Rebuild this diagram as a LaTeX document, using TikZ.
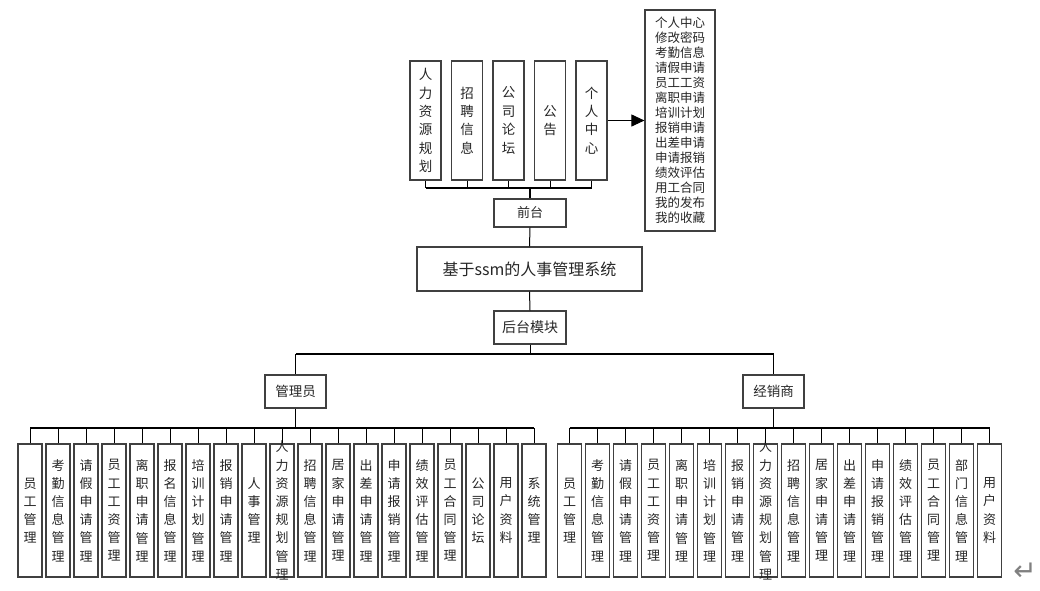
\documentclass[tikz,border=0pt]{standalone}
\usepackage{fontspec}
\setmainfont{Noto Sans CJK SC}
\newfontfamily\symfont{DejaVu Sans}
\usetikzlibrary{arrows.meta}
\begin{document}
\begin{tikzpicture}[x=1pt,y=-1pt,
  box/.style={draw=black!75,line width=1.2pt,fill=white,inner sep=0pt},
  vtext/.style={align=center,inner sep=0pt,text=black!85,font=\fontsize{13}{18.2}\selectfont},
  htext/.style={inner sep=0pt,text=black!85},
  conn/.style={draw=black,line width=1pt},
  bus/.style={draw=black,line width=1.4pt}]
\useasboundingbox (0,0) rectangle (1040,590);

% ---- top (front-end)
\foreach \t [count=\i] in {{人\\力\\资\\源\\规\\划},{招\\聘\\信\\息},{公\\司\\论\\坛},{公\\告},{个\\人\\中\\心}}{
  \node[box,minimum width=31pt,minimum height=119pt] (T\i) at ({425.5+41.5*(\i-1)},120.5) {};
  \node[vtext,font=\fontsize{13.5}{18.4}\selectfont] (Tt\i) at (T\i.center) {\t};
}
\node[box,minimum width=70pt,minimum height=221pt] (pc) at (680,120.5) {};
\node[vtext,font=\fontsize{12.5}{15}\selectfont] (pct) at (pc.center)
 {个人中心\\修改密码\\考勤信息\\请假申请\\员工工资\\离职申请\\培训计划\\报销申请\\出差申请\\申请报销\\绩效评估\\用工合同\\我的发布\\我的收藏};
\draw[conn,-{Triangle[length=13pt,width=12pt]}] (T5.east) -- (pc.west);

\node[box,minimum width=72pt,minimum height=28pt] (qt) at (530,213) {};
\node[htext,font=\fontsize{13}{15}\selectfont] (qtt) at (qt.center) {前台};
\coordinate (topbus) at (0,188);
\foreach \i in {1,...,5}{\draw[conn] (T\i.south) -- (T\i.south |- topbus);}
\draw[bus] (T1.south |- topbus) -- (T5.south |- topbus);
\draw[bus] (qt.north) -- (qt.north |- topbus);

% ---- main
\node[box,minimum width=225pt,minimum height=44pt] (main) at (529.5,269) {};
\node[htext,font=\fontsize{16}{18}\selectfont] (maint) at (main.center) {基于ssm的人事管理系统};
\draw[conn] (qt.south) -- (main.north);

\node[box,minimum width=72pt,minimum height=33pt] (ht) at (530,327.5) {};
\node[htext,font=\fontsize{14}{16}\selectfont] (htt) at (ht.center) {后台模块};
\draw[conn] (main.south) -- (ht.north);

\node[box,minimum width=61pt,minimum height=33pt] (adm) at (295.5,391.5) {};
\node[htext,font=\fontsize{13.5}{16}\selectfont] (admt) at (adm.center) {管理员};
\node[box,minimum width=61pt,minimum height=33pt] (dlr) at (773.5,391.5) {};
\node[htext,font=\fontsize{13.5}{16}\selectfont] (dlrt) at (dlr.center) {经销商};

\coordinate (midbus) at (0,354);
\draw[conn] (ht.south) -- (ht.south |- midbus);
\draw[bus] (adm.north |- midbus) -- (dlr.north |- midbus);
\draw[conn] (adm.north |- midbus) -- (adm.north);
\draw[conn] (dlr.north |- midbus) -- (dlr.north);

% ---- admin children
\coordinate (busL) at (0,428);
\foreach \t [count=\i] in {{员\\工\\管\\理},{考\\勤\\信\\息\\管\\理},{请\\假\\申\\请\\管\\理},{员\\工\\工\\资\\管\\理},{离\\职\\申\\请\\管\\理},{报\\名\\信\\息\\管\\理},{培\\训\\计\\划\\管\\理},{报\\销\\申\\请\\管\\理},{人\\事\\管\\理},{人\\力\\资\\源\\规\\划\\管\\理},{招\\聘\\信\\息\\管\\理},{居\\家\\申\\请\\管\\理},{出\\差\\申\\请\\管\\理},{申\\请\\报\\销\\管\\理},{绩\\效\\评\\估\\管\\理},{员\\工\\合\\同\\管\\理},{公\\司\\论\\坛},{用\\户\\资\\料},{系\\统\\管\\理}}{
  \node[box,minimum width=24pt,minimum height=133pt] (L\i) at ({30+28*(\i-1)},510.5) {};
  \node[vtext] (Lt\i) at (L\i.center) {\t};
  \draw[conn] (L\i.north) -- (L\i.north |- busL);
}
\draw[bus] (L1.north |- busL) -- (L19.north |- busL);
\draw[bus] (adm.south) -- (adm.south |- busL);

% ---- dealer children
\coordinate (busR) at (0,428);
\foreach \t [count=\i] in {{员\\工\\管\\理},{考\\勤\\信\\息\\管\\理},{请\\假\\申\\请\\管\\理},{员\\工\\工\\资\\管\\理},{离\\职\\申\\请\\管\\理},{培\\训\\计\\划\\管\\理},{报\\销\\申\\请\\管\\理},{人\\力\\资\\源\\规\\划\\管\\理},{招\\聘\\信\\息\\管\\理},{居\\家\\申\\请\\管\\理},{出\\差\\申\\请\\管\\理},{申\\请\\报\\销\\管\\理},{绩\\效\\评\\估\\管\\理},{员\\工\\合\\同\\管\\理},{部\\门\\信\\息\\管\\理},{用\\户\\资\\料}}{
  \node[box,minimum width=24pt,minimum height=133pt] (R\i) at ({569.5+28*(\i-1)},510.5) {};
  \node[vtext] (Rt\i) at (R\i.center) {\t};
  \draw[conn] (R\i.north) -- (R\i.north |- busR);
}
\draw[bus] (R1.north |- busR) -- (R16.north |- busR);
\draw[bus] (dlr.south) -- (dlr.south |- busR);

\node[text=black!50,inner sep=0pt,font=\symfont\fontsize{28}{30}\selectfont] (ret) at (1025,572) {↵};
\end{tikzpicture}
\end{document}
